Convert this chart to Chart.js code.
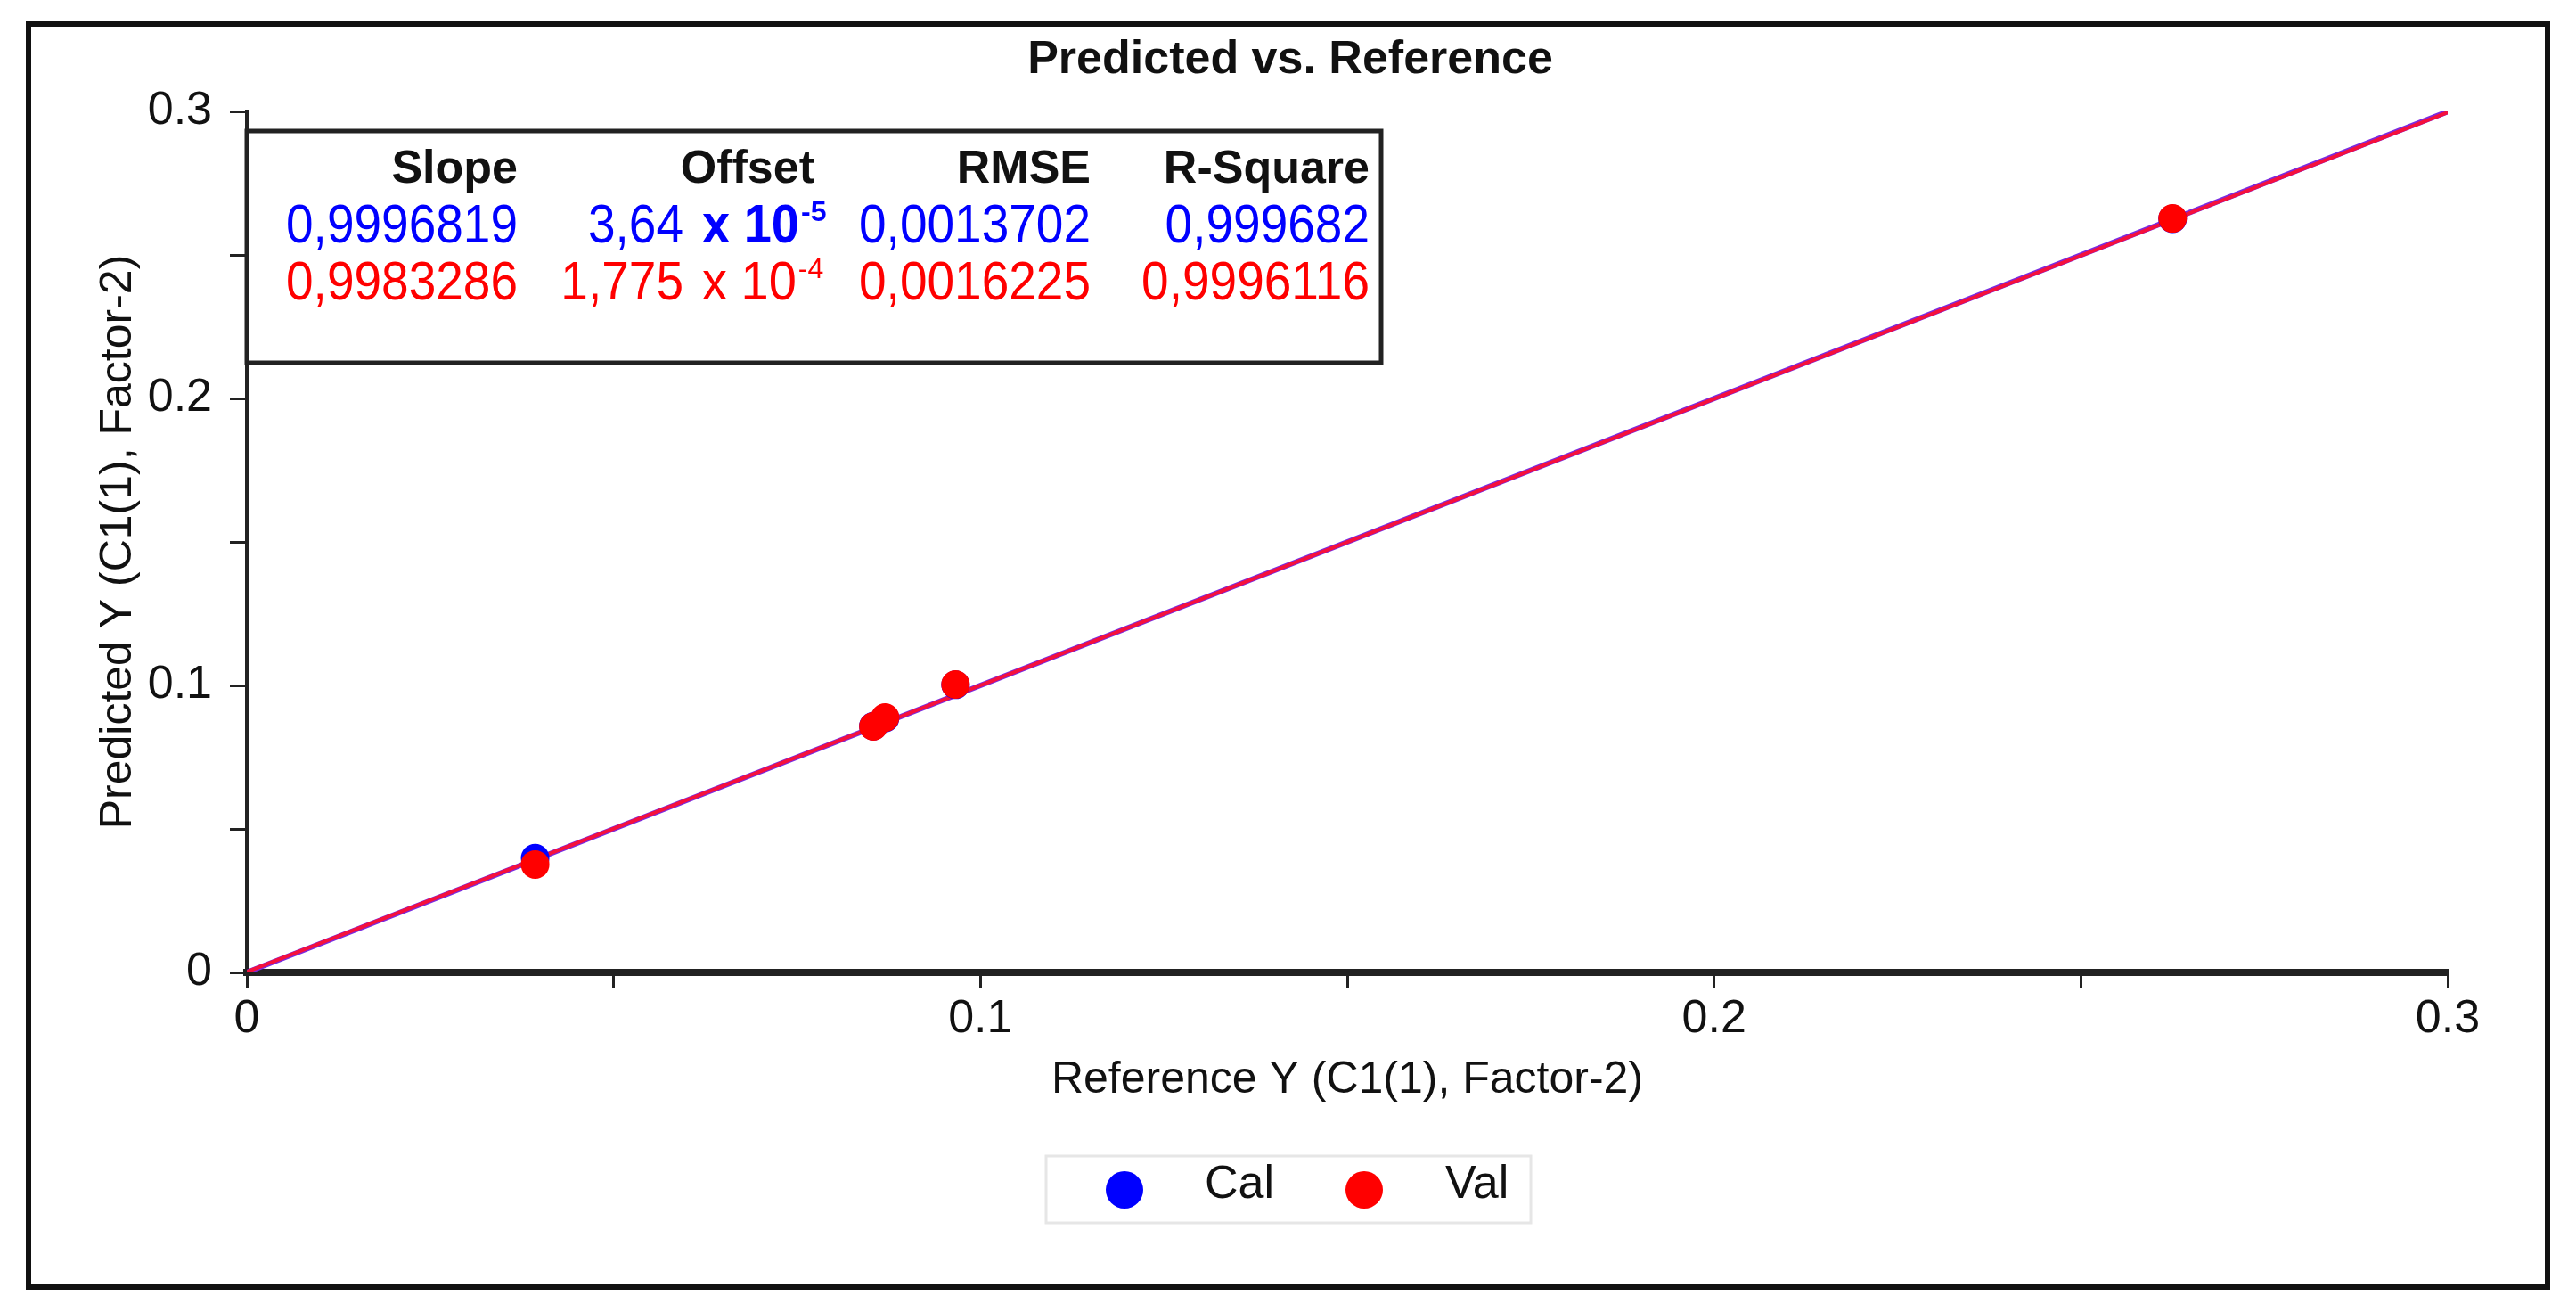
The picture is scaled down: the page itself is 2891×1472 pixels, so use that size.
<!DOCTYPE html>
<html><head><meta charset="utf-8">
<script src="https://cdn.jsdelivr.net/npm/chart.js@4.4.1/dist/chart.umd.min.js"></script>
<style>html,body{margin:0;padding:0;background:#fff;}canvas{display:block;}</style>
</head><body>
<canvas id="c" width="2891" height="1472"></canvas>
<script>
// ---- data ----
const chartTitle = 'Predicted vs. Reference';
const xAxisTitle = 'Reference Y (C1(1), Factor-2)';
const yAxisTitle = 'Predicted Y (C1(1), Factor-2)';
const seriesNames = ['Cal', 'Val'];
const seriesColors = ['#0000ff', '#ff0000'];

const calX = [0.0393, 0.0854, 0.0870, 0.0966, 0.2625];
const calY = [0.0398, 0.0858, 0.0886, 0.1002, 0.2626];
const valX = [0.0393, 0.0854, 0.0870, 0.0966, 0.2625];
const valY = [0.0376, 0.0857, 0.0888, 0.1003, 0.2627];

const fitSlope = [0.9996819, 0.9983286];
const fitOffset = [3.64e-5, 1.775e-4];

const axisMin = 0, axisMax = 0.3, tickStep = 0.05, labelStep = 0.1;
const tickLabels = ['0', '0.1', '0.2', '0.3'];

const statHeaders = ['Slope', 'Offset', 'RMSE', 'R-Square'];
const calStats = ['0,9996819', '3,64', '0,0013702', '0,999682'];
const valStats = ['0,9983286', '1,775', '0,0016225', '0,9996116'];
const offsetExp = ['-5', '-4'];

// ---- chart ----
const FONT = "'Liberation Sans', Arial, sans-serif";
Chart.defaults.font.family = FONT;
Chart.defaults.color = '#111';

const toPts = (xs, ys) => xs.map((x, i) => ({x: x, y: ys[i]}));
const fitLine = k => [{x: axisMin, y: fitOffset[k] + fitSlope[k] * axisMin},
                      {x: axisMax, y: fitOffset[k] + fitSlope[k] * axisMax}];

function tickCb(v) {
  const idx = Math.round(v / labelStep);
  if (Math.abs(v - idx * labelStep) < 1e-9) return tickLabels[idx];
  return '';
}

function tallText(ctx, txt, x, y) {
  ctx.save();
  ctx.translate(x, y);
  ctx.scale(1, 1.1);
  ctx.fillText(txt, 0, 0);
  ctx.restore();
}

const decor = {
  id: 'decor',
  afterDraw(chart) {
    const ctx = chart.ctx;
    ctx.save();
    // outer frame
    ctx.strokeStyle = '#111'; ctx.lineWidth = 6;
    ctx.strokeRect(32, 27, 2827, 1417);
    // title
    ctx.fillStyle = '#111';
    ctx.font = 'bold 52px ' + FONT;
    ctx.textAlign = 'center'; ctx.textBaseline = 'alphabetic';
    ctx.fillText(chartTitle, 1448, 82);
    // stats box
    const ca = chart.chartArea;
    ctx.fillStyle = '#fff';
    ctx.fillRect(ca.left, 147, 1550 - ca.left, 260);
    ctx.strokeStyle = '#222'; ctx.lineWidth = 5;
    ctx.strokeRect(ca.left, 147, 1550 - ca.left, 260);
    const colRight = [581, 914, 1224, 1537];
    ctx.textAlign = 'right';
    ctx.fillStyle = '#111';
    ctx.font = 'bold 52px ' + FONT;
    statHeaders.forEach((h, i) => ctx.fillText(h, colRight[i], 205));
    const rows = [calStats, valStats];
    const rowBase = [272, 336];
    rows.forEach((r, k) => {
      ctx.fillStyle = seriesColors[k];
      ctx.textAlign = 'right';
      ctx.font = '55px ' + FONT;
      tallText(ctx, r[0], colRight[0], rowBase[k]);
      tallText(ctx, r[1], 767, rowBase[k]);
      tallText(ctx, r[2], colRight[2], rowBase[k]);
      tallText(ctx, r[3], colRight[3], rowBase[k]);
      ctx.textAlign = 'left';
      ctx.font = (k === 0 ? 'bold ' : '') + '56px ' + FONT;
      tallText(ctx, 'x 10', 788, rowBase[k]);
      const w = ctx.measureText('x 10').width;
      ctx.font = (k === 0 ? 'bold ' : '') + '32px ' + FONT;
      ctx.fillText(offsetExp[k], 788 + w + 2, rowBase[k] - 24);
    });
    // legend
    ctx.strokeStyle = '#e6e6e6'; ctx.lineWidth = 3;
    ctx.strokeRect(1174, 1297, 544, 75);
    const lx = [1262, 1531], tx = [1352, 1622];
    seriesNames.forEach((n, k) => {
      ctx.fillStyle = seriesColors[k];
      ctx.beginPath(); ctx.arc(lx[k], 1335, 21, 0, Math.PI * 2); ctx.fill();
      ctx.fillStyle = '#111';
      ctx.font = '52px ' + FONT;
      ctx.textAlign = 'left'; ctx.textBaseline = 'middle';
      ctx.fillText(n, tx[k], 1330);
    });
    ctx.restore();
  }
};

new Chart(document.getElementById('c'), {
  type: 'scatter',
  data: {
    datasets: [
      {label: seriesNames[1], data: toPts(valX, valY), backgroundColor: seriesColors[1], borderWidth: 0, pointRadius: 16, order: 0},
      {label: seriesNames[0], data: toPts(calX, calY), backgroundColor: seriesColors[0], borderWidth: 0, pointRadius: 16, order: 1},
      {label: seriesNames[1] + ' fit', data: fitLine(1), showLine: true, borderColor: '#f5103c', borderWidth: 4, pointRadius: 0, order: 2},
      {label: seriesNames[0] + ' fit', data: fitLine(0), showLine: true, borderColor: '#7a2be0', borderWidth: 6, pointRadius: 0, order: 3}
    ]
  },
  options: {
    responsive: false,
    devicePixelRatio: 1,
    animation: false,
    events: [],
    layout: {padding: {left: 103, right: 144, top: 125, bottom: 230}},
    plugins: {legend: {display: false}, title: {display: false}, tooltip: {enabled: false}},
    scales: {
      x: {
        type: 'linear', min: axisMin, max: axisMax,
        afterFit(s) { s.height = 151; },
        ticks: {stepSize: tickStep, callback: tickCb, font: {size: 52, lineHeight: 1}, padding: 10, color: '#111', maxRotation: 0, autoSkip: false},
        grid: {drawOnChartArea: false, drawTicks: true, tickLength: 17, tickWidth: 3, tickColor: '#222'},
        border: {display: true, color: '#222', width: 8},
        title: {display: true, text: xAxisTitle, font: {size: 50, lineHeight: 1.2}, padding: 0, color: '#111'}
      },
      y: {
        type: 'linear', min: axisMin, max: axisMax,
        afterFit(s) { s.width = 174; },
        ticks: {stepSize: tickStep, callback: tickCb, font: {size: 52, lineHeight: 1}, padding: 20, color: '#111', autoSkip: false},
        grid: {drawOnChartArea: false, drawTicks: true, tickLength: 19, tickWidth: 3, tickColor: '#222'},
        border: {display: true, color: '#222', width: 5},
        title: {display: true, text: yAxisTitle, font: {size: 50, lineHeight: 1.2}, padding: 0, color: '#111'}
      }
    }
  },
  plugins: [decor]
});
</script>
</body></html>
